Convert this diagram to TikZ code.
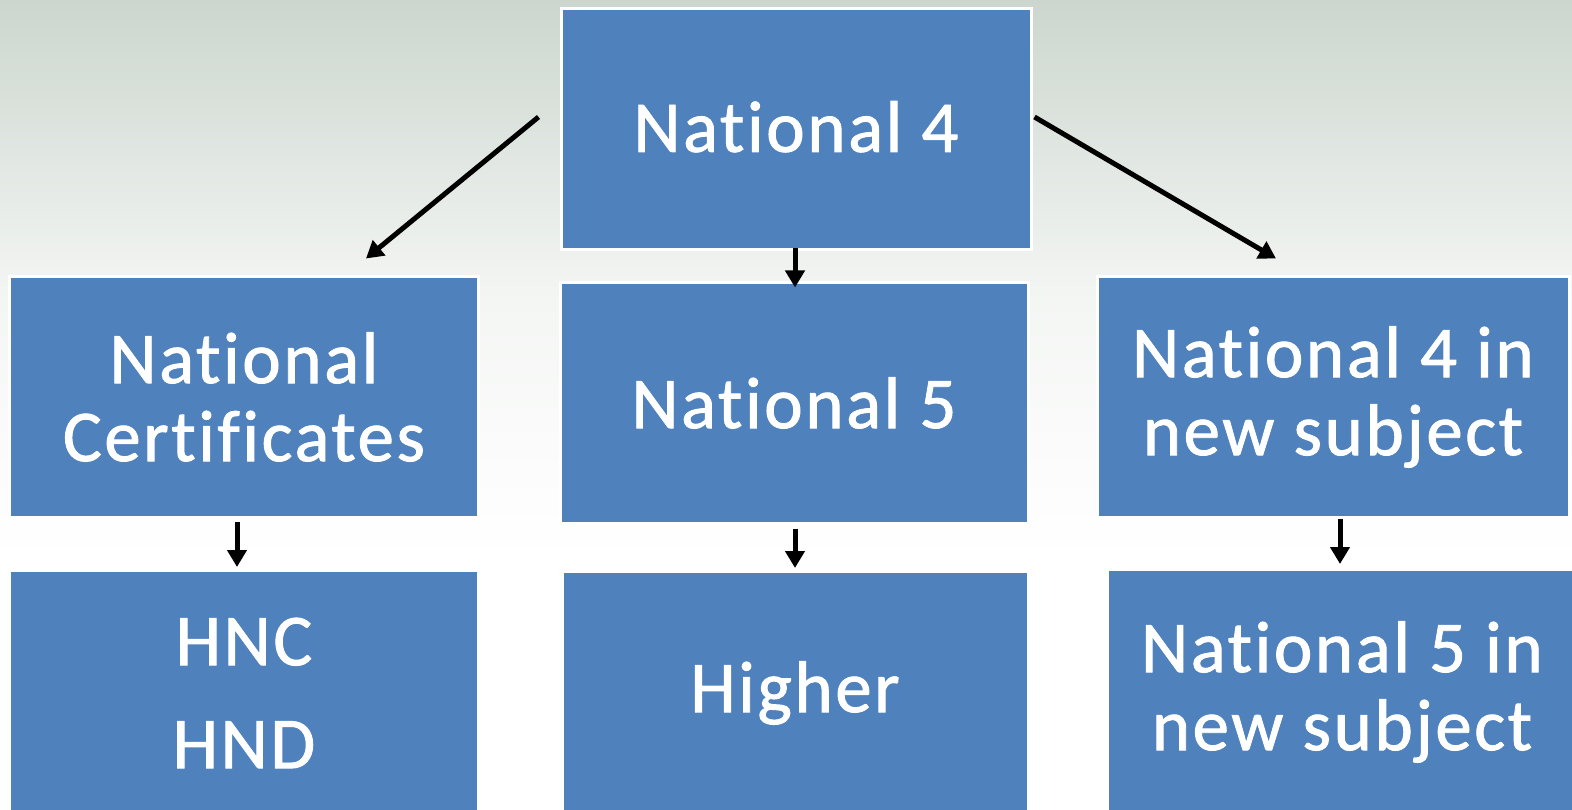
\documentclass[tikz,border=0pt]{standalone}
\usepackage{fontspec}
\setmainfont[Ligatures=NoCommon, LetterSpace=3.5, FakeBold=1.2]{Carlito}
\usetikzlibrary{arrows.meta}
\definecolor{boxblue}{RGB}{79,129,189}
\definecolor{bgtop}{RGB}{204,214,206}
\definecolor{bgmid}{RGB}{244,246,244}
\tikzset{
  box/.style={rectangle, fill=boxblue, draw=white, line width=3pt, inner sep=0pt,
    text=white, align=center, font=\fontsize{73}{78}\selectfont},
  arr/.style={line width=5pt, -{Triangle[length=17pt,width=19pt]}}
}
\begin{document}
\begin{tikzpicture}[x=1pt,y=-1pt]
\useasboundingbox (0,0) rectangle (1572,810);
\fill[white] (0,0) rectangle (1572,810);
\shade[top color=bgtop, bottom color=bgmid] (0,0) rectangle (1572,300);
\shade[top color=bgmid, bottom color=white] (0,300) rectangle (1572,560);

\node[box, minimum width=470pt, minimum height=241pt] (n4) at (796,129) {\raisebox{5pt}{National 4}};
\node[box, minimum width=469pt, minimum height=240pt] (nc) at (244,397) {National\\Certificates};
\node[box, minimum width=469pt, minimum height=245pt] (hnc) at (244,693) {\raisebox{3pt}{HNC}\\[22pt]HND};
\node[box, minimum width=468pt, minimum height=240pt] (n5) at (794,403) {National 5};
\node[box, minimum width=466pt, minimum height=243pt] (hi) at (795,693) {Higher};
\node[box, minimum width=472pt, minimum height=240pt] (n4new) at (1333,397) {National 4 in\\new subject};
\node[box, minimum width=470pt, minimum height=245pt] (n5new) at (1342,692) {National 5 in\\new subject};

\draw[arr] ([xshift=-7pt,yshift=-3pt]nc.south) -- ([xshift=-7pt,yshift=2pt]hnc.north);
\draw[arr] ([xshift=-1pt,yshift=3pt]n4.south) -- ([xshift=1pt,yshift=-6pt]n5.north);
\draw[arr] ([xshift=1pt,yshift=-4pt]n5.south) -- ([yshift=2pt]hi.north);
\draw[arr] ([xshift=7pt,yshift=0pt]n4new.south) -- ([xshift=-2pt,yshift=4pt]n5new.north);
\draw[arr] ([xshift=-21pt,yshift=12pt]n4.west) -- ([xshift=122pt,yshift=17pt]nc.north);
\draw[arr] ([xshift=2pt,yshift=12pt]n4.east) -- ([xshift=-57pt,yshift=17pt]n4new.north);
\end{tikzpicture}
\end{document}
